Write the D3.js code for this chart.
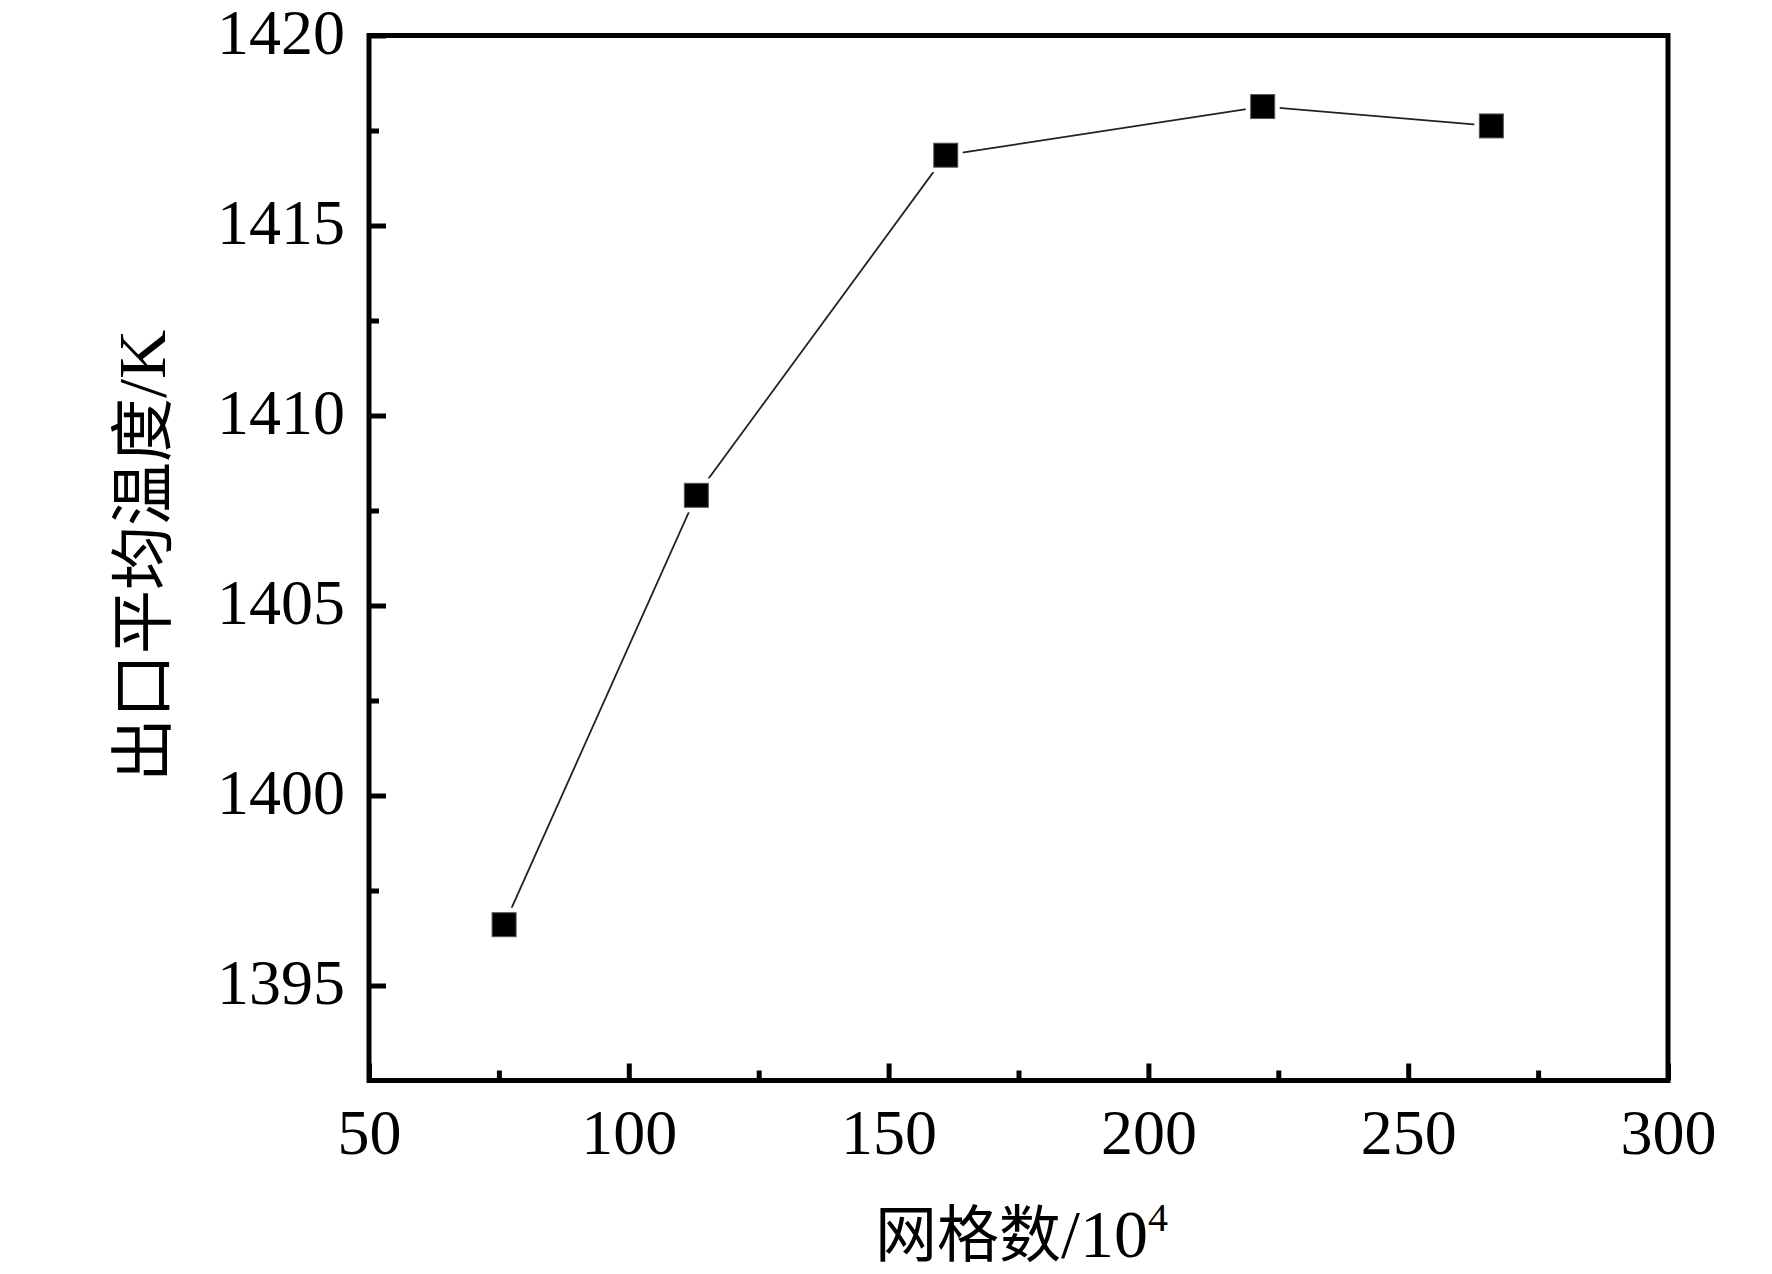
<!DOCTYPE html>
<html>
<head>
<meta charset="utf-8">
<script src="https://cdn.jsdelivr.net/npm/d3@7"></script>
<style>
    body { margin: 0; background: #fff; }
    svg text { fill: #000; }
</style>
</head>
<body>
<svg id="chart" width="1772" height="1274"></svg>
<script>
// grid count (x 10^4) and mean outlet temperature (K)
const gridCounts = [76, 113, 161, 222, 266];
const outletTemps = [1396.6, 1407.9, 1416.85, 1418.13, 1417.62];

const xTicks = [50, 100, 150, 200, 250, 300];
const xMinorTicks = [75, 125, 175, 225, 275];
const yTicks = [1395, 1400, 1405, 1410, 1415, 1420];
const yMinorTicks = [1397.5, 1402.5, 1407.5, 1412.5, 1417.5];

const LEFT = 369, RIGHT = 1668, TOP = 35.5, BOTTOM = 1080.5;
const AXIS_W = 5;
const MAJOR_LEN = 17, MINOR_LEN = 10;
const LATIN = "'Liberation Serif', 'Times New Roman', serif";
const CJK = "'Noto Sans CJK SC', sans-serif";

const svg = d3.select("#chart");

const x = d3.scaleLinear().domain([50, 300]).range([LEFT, RIGHT]);
const y = d3.scaleLinear().domain([1392.5, 1420]).range([BOTTOM, TOP]);

// frame
svg.append("rect")
    .attr("x", LEFT)
    .attr("y", TOP)
    .attr("width", RIGHT - LEFT)
    .attr("height", BOTTOM - TOP)
    .attr("fill", "none")
    .attr("stroke", "#000")
    .attr("stroke-width", AXIS_W);

// x axis ticks (inward) and labels
const xAxis = svg.append("g").attr("transform", `translate(0,${BOTTOM})`);
xAxis.call(d3.axisBottom(x).tickValues(xTicks).tickSize(-MAJOR_LEN).tickPadding(28)
        .tickFormat(d3.format("d")))
    .call(g => g.select(".domain").remove())
    .call(g => g.selectAll(".tick line").attr("stroke-width", AXIS_W))
    .call(g => g.selectAll(".tick text")
        .attr("font-family", LATIN)
        .attr("font-size", 64));
xAxis.append("g")
    .call(d3.axisBottom(x).tickValues(xMinorTicks).tickSize(-MINOR_LEN).tickFormat(""))
    .call(g => g.select(".domain").remove())
    .call(g => g.selectAll(".tick line").attr("stroke-width", AXIS_W));

// y axis ticks (inward) and labels
const yAxis = svg.append("g").attr("transform", `translate(${LEFT},0)`);
yAxis.call(d3.axisLeft(y).tickValues(yTicks).tickSize(-MAJOR_LEN).tickPadding(24)
        .tickFormat(d3.format("d")))
    .call(g => g.select(".domain").remove())
    .call(g => g.selectAll(".tick line").attr("stroke-width", AXIS_W))
    .call(g => g.selectAll(".tick text")
        .attr("font-family", LATIN)
        .attr("font-size", 64)
        .attr("dy", "0.28em"));
yAxis.append("g")
    .call(d3.axisLeft(y).tickValues(yMinorTicks).tickSize(-MINOR_LEN).tickFormat(""))
    .call(g => g.select(".domain").remove())
    .call(g => g.selectAll(".tick line").attr("stroke-width", AXIS_W));

// data
const points = gridCounts.map((g, i) => ({ g: g, t: outletTemps[i] }));

svg.append("path")
    .datum(points)
    .attr("fill", "none")
    .attr("stroke", "#222")
    .attr("stroke-width", 1.8)
    .attr("d", d3.line().x(d => x(d.g)).y(d => y(d.t)));

const MARK = 24;
const marks = svg.append("g");
marks.selectAll("rect.halo")
    .data(points)
    .join("rect")
    .attr("class", "halo")
    .attr("x", d => x(d.g) - MARK / 2 - 5)
    .attr("y", d => y(d.t) - MARK / 2 - 5)
    .attr("width", MARK + 10)
    .attr("height", MARK + 10)
    .attr("fill", "#fff");
marks.selectAll("rect.mark")
    .data(points)
    .join("rect")
    .attr("class", "mark")
    .attr("x", d => x(d.g) - MARK / 2)
    .attr("y", d => y(d.t) - MARK / 2)
    .attr("width", MARK)
    .attr("height", MARK)
    .attr("fill", "#000")
    .attr("stroke", "#555")
    .attr("stroke-width", 1);

// axis titles: Chinese part in CJK font, Latin part in serif
const xTitle = svg.append("text")
    .attr("x", (LEFT + RIGHT) / 2 + 3)
    .attr("y", 1257)
    .attr("text-anchor", "middle");
xTitle.append("tspan").attr("font-family", CJK).attr("font-size", 62).text("网格数");
xTitle.append("tspan").attr("font-family", LATIN).attr("font-size", 68).text("/10");
xTitle.append("tspan")
    .attr("font-family", LATIN)
    .attr("font-size", 40)
    .attr("dy", -26)
    .text("4");

const yTitle = svg.append("text")
    .attr("transform", `translate(165,${(TOP + BOTTOM) / 2 - 2}) rotate(-90)`)
    .attr("text-anchor", "middle");
yTitle.append("tspan").attr("font-family", CJK).attr("font-size", 64).text("出口平均温度");
yTitle.append("tspan").attr("font-family", LATIN).attr("font-size", 68).text("/K");
</script>
</body>
</html>
